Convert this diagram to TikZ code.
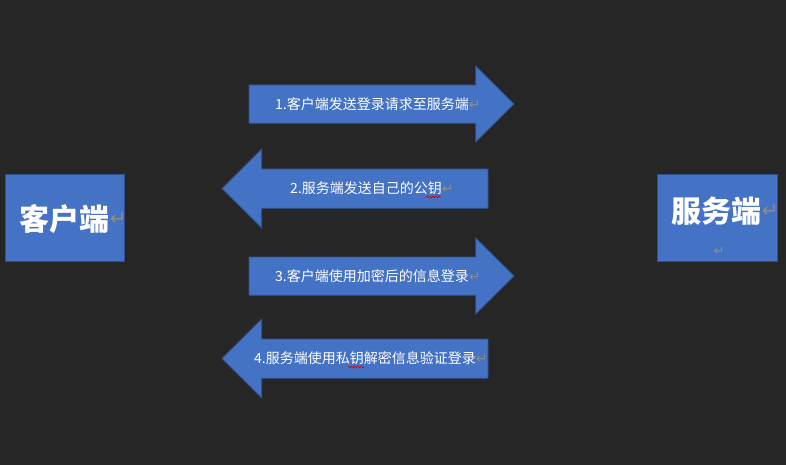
\documentclass[tikz,border=0pt]{standalone}
\usepackage{fontspec}
\setmainfont{Noto Sans CJK SC}
\newfontfamily\cjk{Noto Sans CJK SC}
\newfontfamily\symfont{DejaVu Sans}
\usetikzlibrary{decorations.pathmorphing}
\definecolor{bgc}{HTML}{262626}
\definecolor{blu}{HTML}{4472C4}
\definecolor{bord}{HTML}{2F528F}
\definecolor{retgray}{HTML}{8C8C8C}
\newcommand{\retmark}[1]{{\symfont\color{retgray}\fontsize{#1}{#1}\selectfont ↵}}
\tikzset{
  box/.style={draw=bord, line width=0.8pt, fill=blu},
  blockarrow/.style={draw=bord, line width=0.8pt, fill=blu},
  boxtext/.style={text=white, inner sep=0pt, font=\cjk\bfseries\fontsize{30}{30}\selectfont},
  arrtext/.style={text=white, inner sep=0pt, anchor=west, font=\cjk\fontsize{14}{14}\selectfont},
  squiggle/.style={draw=red!85!black, line width=0.6pt, decorate, decoration={snake, amplitude=0.9pt, segment length=3pt}}
}
\begin{document}
\begin{tikzpicture}[x=1pt,y=-1pt]
\fill[bgc] (0,0) rectangle (786,465);
\useasboundingbox (0,0) rectangle (786,465);
% boxes
\node[box, minimum width=119.7pt, minimum height=87pt, inner sep=0pt] (client) at (64.9,218) {};
\node[box, minimum width=119.7pt, minimum height=87pt, inner sep=0pt] (server) at (717.2,218) {};
\node[boxtext] (clienttext) at (64,219) {客户端};
\node[inner sep=0pt, anchor=west] (clientret) at ([xshift=0.5pt]clienttext.east) {\retmark{20}};
\node[boxtext] (servertext) at (716,211) {服务端};
\node[inner sep=0pt, anchor=west] (serverret) at ([xshift=0.5pt]servertext.east) {\retmark{20}};
\node[inner sep=0pt] (serverret2) at (719,251) {\retmark{13}};
% arrow 1 (right)
\path[blockarrow] (249,85) -- (475.7,85) -- (475.7,66) -- (514,104) -- (475.7,142) -- (475.7,123.3) -- (249,123.3) -- cycle;
% arrow 2 (left)
\path[blockarrow] (488,169) -- (261.7,169) -- (261.7,149) -- (222,188.5) -- (261.7,228) -- (261.7,208.3) -- (488,208.3) -- cycle;
% arrow 3 (right)
\path[blockarrow] (249,257) -- (475.7,257) -- (475.7,238) -- (514,276) -- (475.7,314) -- (475.7,295.3) -- (249,295.3) -- cycle;
% arrow 4 (left)
\path[blockarrow] (488,339) -- (261.7,339) -- (261.7,319) -- (222,358.5) -- (261.7,398) -- (261.7,378.3) -- (488,378.3) -- cycle;
% labels
\node[arrtext] (t1) at (275,104) {1.客户端发送登录请求至服务端\retmark{14}};
\node[arrtext] (t2) at (290,188) {2.服务端发送自己的公钥\retmark{14}};
\node[arrtext] (t3) at (275,276) {3.客户端使用加密后的信息登录\retmark{14}};
\node[arrtext] (t4) at (254,358) {4.服务端使用私钥解密信息验证登录\retmark{14}};
% spell-check squiggles
\coordinate (s2a) at (426,197);
\coordinate (s2b) at (441,197);
\coordinate (s4a) at (348,367);
\coordinate (s4b) at (364,367);
\draw[squiggle] (s2a) -- (s2b);
\draw[squiggle] (s4a) -- (s4b);
\end{tikzpicture}
\end{document}
